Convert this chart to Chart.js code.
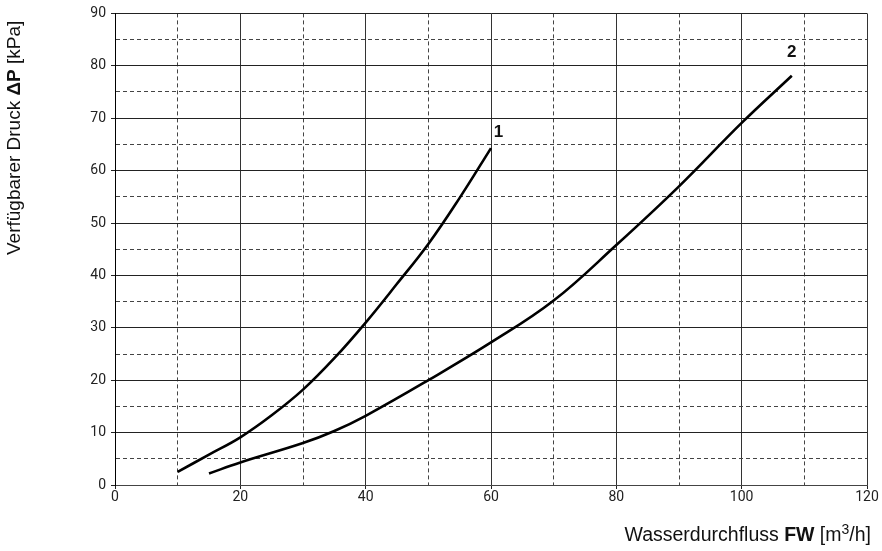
<!DOCTYPE html>
<html>
<head>
<meta charset="utf-8">
<script src="https://cdn.jsdelivr.net/npm/chart.js@4.4.1/dist/chart.umd.min.js"></script>
<style>
  html, body { margin: 0; padding: 0; background: #fff; }
  #wrap { position: relative; width: 882px; height: 551px; }
</style>
</head>
<body>
<div id="wrap"><canvas id="pressureChart" width="882" height="551"></canvas></div>
<script>
// Kurve 1
const flow1 = [10, 15, 20, 25, 30, 35, 40, 45, 50, 55, 60];
const press1 = [2.5, 5.8, 9.1, 13.3, 18.2, 24.2, 31.0, 38.4, 46.0, 54.8, 64.3];

// Kurve 2
const flow2 = [15, 20, 30, 35, 40, 50, 60, 70, 80, 90, 100, 108];
const press2 = [2.2, 4.3, 8.0, 10.3, 13.2, 20.0, 27.2, 35.2, 45.8, 57.0, 69.1, 78.1];

// curve labels: [text, x, y]
const curveLabels = [["1", 61.2, 67.3], ["2", 108.0, 82.6]];

const xMin = 0, xMax = 120, xStep = 10;
const yMin = 0, yMax = 90, yStep = 5;

const TICK_FONT = { family: "Roboto, 'Liberation Sans', sans-serif", size: 14 };
const TITLE_FAMILY = "'Liberation Sans', Arial, sans-serif";

function toPoints(xs, ys) {
  return xs.map((x, i) => ({ x: x, y: ys[i] }));
}

function isMajorX(v) { return v % 20 === 0; }
function isMajorY(v) { return v % 10 === 0; }

// Titel und Kurvennummern
const annotations = {
  id: "annotations",
  afterDraw(chart) {
    const ctx = chart.ctx;
    const xs = chart.scales.x, ys = chart.scales.y;
    ctx.save();
    ctx.fillStyle = "#111";

    // Kurvennummern
    ctx.font = "bold 17px " + TITLE_FAMILY;
    ctx.textAlign = "center";
    ctx.textBaseline = "middle";
    curveLabels.forEach(([t, x, y]) => {
      ctx.fillText(t, xs.getPixelForValue(x), ys.getPixelForValue(y));
    });

    // y-Achsentitel
    const ySegs = [
      ["Verfügbarer Druck ", "19px"],
      ["ΔP", "bold 19px"],
      [" [kPa]", "19px"]
    ];
    ctx.save();
    ctx.translate(15, 255);
    ctx.rotate(-Math.PI / 2);
    ctx.textAlign = "left";
    ctx.textBaseline = "middle";
    let pos = 0;
    ySegs.forEach(([t, f]) => {
      ctx.font = f + " " + TITLE_FAMILY;
      ctx.fillText(t, pos, 0);
      pos += ctx.measureText(t).width;
    });
    ctx.restore();

    // x-Achsentitel (rechtsbündig)
    const xSegs = [
      ["Wasserdurchfluss ", "19.5px", 0],
      ["FW", "bold 19.5px", 0],
      [" [m", "19.5px", 0],
      ["3", "14px", -7],
      ["/h]", "19.5px", 0]
    ];
    let total = 0;
    xSegs.forEach(([t, f]) => {
      ctx.font = f + " " + TITLE_FAMILY;
      total += ctx.measureText(t).width;
    });
    ctx.textAlign = "left";
    ctx.textBaseline = "alphabetic";
    let x0 = 871 - total;
    xSegs.forEach(([t, f, dy]) => {
      ctx.font = f + " " + TITLE_FAMILY;
      ctx.fillText(t, x0, 541 + dy);
      x0 += ctx.measureText(t).width;
    });
    ctx.restore();
  }
};

const chart = new Chart(document.getElementById("pressureChart"), {
  type: "line",
  data: {
    datasets: [
      {
        label: "1",
        data: toPoints(flow1, press1),
        borderColor: "#000",
        borderWidth: 2.6,
        pointRadius: 0,
        tension: 0.4,
        fill: false
      },
      {
        label: "2",
        data: toPoints(flow2, press2),
        borderColor: "#000",
        borderWidth: 2.6,
        pointRadius: 0,
        tension: 0.4,
        fill: false
      }
    ]
  },
  options: {
    responsive: false,
    animation: false,
    layout: { padding: { left: 0, right: 15, top: 12, bottom: 0 } },
    plugins: {
      legend: { display: false },
      tooltip: { enabled: false }
    },
    scales: {
      x: {
        type: "linear",
        min: xMin,
        max: xMax,
        afterFit: (scale) => { scale.height = 66; },
        ticks: {
          stepSize: xStep,
          padding: 0,
          color: "#222",
          font: TICK_FONT,
          maxRotation: 0,
          callback: (v) => isMajorX(v) ? v : ""
        },
        grid: {
          color: (c) => isMajorX(c.tick.value) ? "#333" : "#444",
          lineWidth: 1,
          tickLength: 4,
          tickColor: (c) => isMajorX(c.tick.value) ? "#222" : "rgba(0,0,0,0)"
        },
        border: {
          display: true,
          color: "#444",
          width: 1,
          dash: (c) => (c.tick && !isMajorX(c.tick.value)) ? [4, 3] : []
        }
      },
      y: {
        type: "linear",
        min: yMin,
        max: yMax,
        afterFit: (scale) => { scale.width = 115; },
        ticks: {
          stepSize: yStep,
          padding: 5,
          color: "#222",
          font: TICK_FONT,
          callback: (v) => isMajorY(v) ? v : ""
        },
        grid: {
          color: (c) => isMajorY(c.tick.value) ? "#222" : "#444",
          lineWidth: 1,
          tickLength: 4,
          tickColor: (c) => isMajorY(c.tick.value) ? "#222" : "rgba(0,0,0,0)"
        },
        border: {
          display: true,
          color: "#000",
          width: 1,
          dash: (c) => (c.tick && !isMajorY(c.tick.value)) ? [4, 3] : []
        }
      }
    }
  },
  plugins: [annotations]
});
</script>
</body>
</html>
